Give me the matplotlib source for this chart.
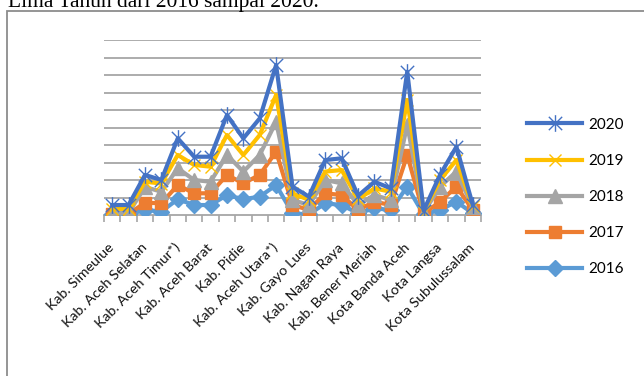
import numpy as np
import matplotlib
matplotlib.use("Agg")
import matplotlib.pyplot as plt
from matplotlib.path import Path
from matplotlib.patches import Rectangle

plt.rcParams['font.family'] = ['Lato', 'DejaVu Sans']

# 23 kabupaten/kota di Aceh (hanya label genap yang tampil)
regions = ['Kab. Simeulue', 'Kab. Aceh Singkil', 'Kab. Aceh Selatan', 'Kab. Aceh Tenggara',
           'Kab. Aceh Timur*)', 'Kab. Aceh Tengah', 'Kab. Aceh Barat', 'Kab. Aceh Besar',
           'Kab. Pidie', 'Kab. Bireuen', 'Kab. Aceh Utara*)', 'Kab. Aceh Barat Daya',
           'Kab. Gayo Lues', 'Kab. Aceh Tamiang', 'Kab. Nagan Raya', 'Kab. Aceh Jaya',
           'Kab. Bener Meriah', 'Kab. Pidie Jaya', 'Kota Banda Aceh', 'Kota Sabang',
           'Kota Langsa', 'Kota Lhokseumawe', 'Kota Subulussalam']

years = ['2016', '2017', '2018', '2019', '2020']

v2016 = [0.03, 0.03, 0.29, 0.20, 0.90, 0.57, 0.57, 1.14, 0.90, 1.05, 1.71, 0.10,
         0.03, 0.67, 0.57, 0.10, 0.38, 0.29, 1.62, 0.03, 0.29, 0.76, 0.10]
v2017 = [0.03, 0.03, 0.41, 0.47, 0.81, 0.67, 0.67, 1.15, 0.91, 1.24, 1.91, 0.47,
         0.26, 0.57, 0.57, 0.19, 0.38, 0.28, 1.81, 0.05, 0.47, 0.86, 0.19]
v2018 = [0.06, 0.06, 0.90, 0.66, 0.96, 0.76, 0.66, 1.14, 0.67, 1.14, 1.71, 0.29,
         0.28, 0.76, 0.67, 0.28, 0.38, 0.29, 1.71, 0.06, 0.86, 0.86, 0.16]
v2019 = [0.23, 0.23, 0.30, 0.47, 0.76, 0.86, 0.86, 1.14, 0.95, 1.14, 1.53, 0.38,
         0.29, 0.48, 0.76, 0.33, 0.38, 0.47, 1.43, 0.06, 0.38, 0.66, 0.05]
v2020 = [0.22, 0.22, 0.39, 0.20, 0.95, 0.47, 0.57, 1.14, 0.95, 0.95, 1.71, 0.38,
         0.19, 0.66, 0.67, 0.20, 0.38, 0.19, 1.62, 0.05, 0.29, 0.76, 0.07]

colors = ['#5B9BD5', '#ED7D31', '#A5A5A5', '#FFC000', '#4472C4']

# asterisk marker like excel's "star"
star = Path([(0, -1), (0, 1), (-0.8, -0.8), (0.8, 0.8), (-0.8, 0.8), (0.8, -0.8)],
            [Path.MOVETO, Path.LINETO, Path.MOVETO, Path.LINETO, Path.MOVETO, Path.LINETO])
markers = ['D', 's', '^', 'x', star]
msizes = [8, 9, 9.5, 9, 12]

W, H = 644, 376
fig = plt.figure(figsize=(W / 100, H / 100), dpi=100)
ax = fig.add_axes([104 / W, 1 - 215 / H, 377 / W, 175 / H])

data = np.array([v2016, v2017, v2018, v2019, v2020])
stacked = np.cumsum(data, axis=0)
x = np.arange(len(regions))

for i, yr in enumerate(years):
    ax.plot(x, stacked[i], color=colors[i], lw=3.0, marker=markers[i], ms=msizes[i],
            mfc=colors[i] if i < 3 else 'none', mec=colors[i], mew=1.0,
            label=yr, zorder=3 + i)

ax.set_xlim(-0.5, len(regions) - 0.5)
ax.set_ylim(0, 10)
ax.set_yticks(np.arange(1, 11))
ax.yaxis.grid(True, color='#a6a6a6', lw=1.3)
ax.tick_params(axis='y', length=0, labelleft=False)
ax.set_axisbelow(True)
for s in ['top', 'right', 'left']:
    ax.spines[s].set_visible(False)
ax.spines['bottom'].set_color('#a6a6a6')
ax.spines['bottom'].set_linewidth(1.3)

ax.set_xticks(x)
ax.set_xticklabels([r if i % 2 == 0 else '' for i, r in enumerate(regions)],
                   rotation=45, ha='right', va='center', rotation_mode='anchor',
                   fontsize=10.3, color='#111111')
ax.tick_params(axis='x', which='major', length=0, pad=22)
ax.set_xticks(np.arange(len(regions) + 1) - 0.5, minor=True)
ax.tick_params(axis='x', which='minor', length=5, width=1.2, color='#a6a6a6')

h, l = ax.get_legend_handles_labels()
fig.legend(h[::-1], l[::-1], loc='center left', bbox_to_anchor=(527 / W, 1 - 197 / H),
           frameon=False, fontsize=11, handlelength=3.6, handletextpad=0.4,
           labelspacing=1.45, borderpad=0, borderaxespad=0)

fig.text(8 / W, 1 - 7 / H, 'Lima Tahun dari 2016 sampai 2020.', fontsize=15.5,
         family='Liberation Serif', va='baseline', ha='left')
fig.patches.append(Rectangle((7 / W, -0.1), 1.2, 1.1 - 11 / H, transform=fig.transFigure,
                             fill=False, ec='#8c8c8c', lw=1.3))

fig.savefig('out.png', dpi=100)
